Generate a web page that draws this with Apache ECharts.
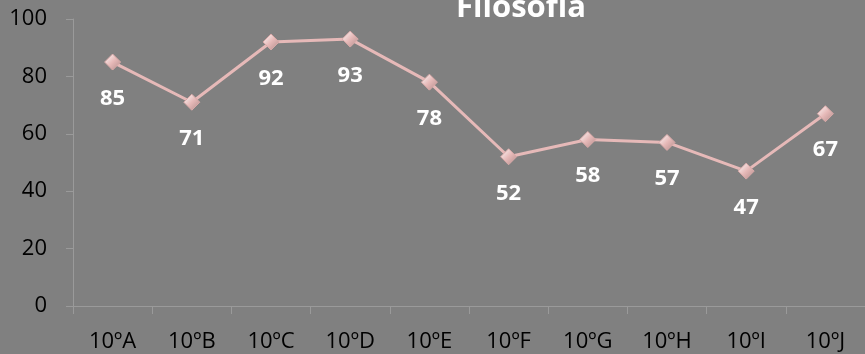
<!DOCTYPE html>
<html><head><meta charset="utf-8">
<script src="https://cdn.jsdelivr.net/npm/echarts@6/dist/echarts.min.js"></script>
<style>html,body{margin:0;padding:0;background:#808080}#c{width:865px;height:354px}</style>
</head><body><div id="c"></div>
<script>
const categories = ['10ºA','10ºB','10ºC','10ºD','10ºE','10ºF','10ºG','10ºH','10ºI','10ºJ'];
const values = [85, 71, 92, 93, 78, 52, 58, 57, 47, 67];
const yTicks = [0, 20, 40, 60, 80, 100];
const titleText = 'Filosofia';
const FONT = '"Open Sans", sans-serif';
const chart = echarts.init(document.getElementById('c'));
chart.setOption({
  backgroundColor: '#808080',
  animation: false,
  title: {text: titleText, left: 516, textAlign: 'center', top: -12,
    textStyle: {color: '#ffffff', fontSize: 31, fontWeight: 'bold', fontFamily: FONT}},
  grid: {left: 73, top: 19, width: 796, height: 287, containLabel: false},
  xAxis: {type: 'category', data: categories, boundaryGap: true,
    axisLine: {lineStyle: {color: '#9a9a9a', width: 1}},
    axisTick: {show: true, length: 8, alignWithLabel: false, lineStyle: {color: '#9a9a9a'}},
    axisLabel: {color: '#000000', fontSize: 22, fontFamily: FONT, margin: 25}},
  yAxis: {type: 'value', min: yTicks[0], max: yTicks[yTicks.length-1], interval: 20,
    axisLine: {show: true, lineStyle: {color: '#9a9a9a', width: 1}},
    axisTick: {show: true, length: 7, lineStyle: {color: '#9a9a9a'}},
    splitLine: {show: false},
    axisLabel: {color: '#000000', fontSize: 22, fontFamily: FONT, margin: 26}},
  series: [{type: 'line', data: values,
    symbol: 'diamond', symbolSize: 16,
    lineStyle: {color: '#e6b9b8', width: 3},
    itemStyle: {color: {type: 'linear', x: 0, y: 0, x2: 1, y2: 1,
      colorStops: [{offset: 0, color: '#ffffff'}, {offset: 0.5, color: '#e6b9b8'}, {offset: 1, color: '#b08a89'}]},
      borderColor: '#d9a9a8', borderWidth: 1},
    label: {show: true, position: 'bottom', distance: 17, color: '#ffffff', fontSize: 22,
      fontWeight: 'bold', fontFamily: FONT}}]
});
</script></body></html>
